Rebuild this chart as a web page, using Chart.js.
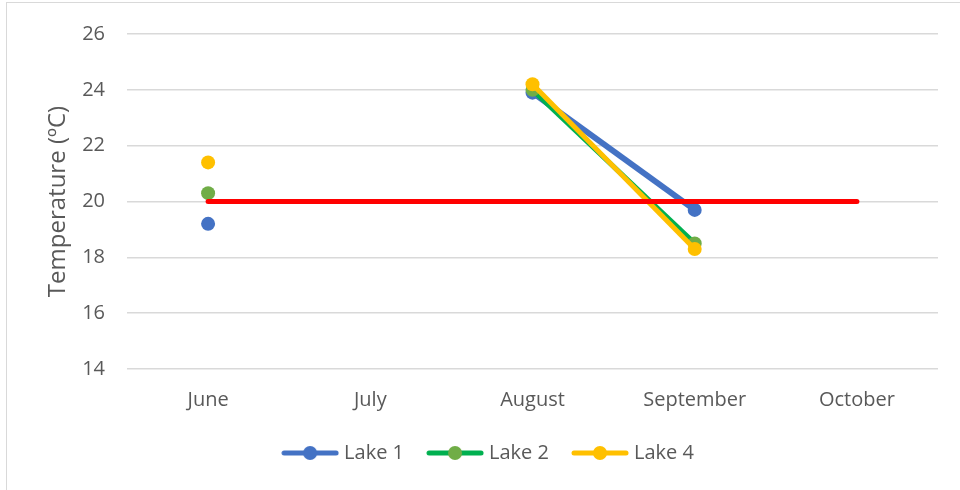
<!DOCTYPE html>
<html>
<head>
<meta charset="utf-8">
<script src="https://cdn.jsdelivr.net/npm/chart.js@4.4.1/dist/chart.umd.min.js"></script>
<style>
  body { margin: 0; background: #fff; }
  #wrap { position: relative; width: 960px; height: 490px; }
  #frame { position: absolute; left: 6px; top: 2px; right: -2px; bottom: -2px; border: 1px solid #d9d9d9; box-sizing: border-box; }
  canvas { position: absolute; left: 0; top: 0; }
</style>
</head>
<body>
<div id="wrap">
  <div id="frame"></div>
  <canvas id="grafico" width="960" height="490"></canvas>
</div>
<script>
// Datos
const meses = ['June', 'July', 'August', 'September', 'October'];
const lago1 = [19.2, null, 23.9, 19.7, null];
const lago2 = [20.3, null, 24.0, 18.5, null];
const lago4 = [21.4, null, 24.2, 18.3, null];
const limite = [20, 20, 20, 20, 20];
const ticksY = [14, 16, 18, 20, 22, 24, 26];

const gris = '#595959';
const fuente = "'Open Sans', 'Liberation Sans', sans-serif";

// icono de leyenda: linea con circulo
function iconoLeyenda(colorLinea, colorPunto) {
    const c = document.createElement('canvas');
    c.width = 58; c.height = 14;
    const g = c.getContext('2d');
    g.strokeStyle = colorLinea;
    g.lineWidth = 5;
    g.lineCap = 'round';
    g.beginPath();
    g.moveTo(3, 7); g.lineTo(55, 7);
    g.stroke();
    g.fillStyle = colorPunto;
    g.beginPath();
    g.arc(29, 7, 7, 0, Math.PI * 2);
    g.fill();
    return c;
}

const iconos = [
    iconoLeyenda('#4472C4', '#4472C4'),
    iconoLeyenda('#00B050', '#70AD47'),
    iconoLeyenda('#FFC000', '#FFC000')
];

const ctx = document.getElementById('grafico').getContext('2d');

new Chart(ctx, {
    type: 'line',
    data: {
        labels: meses,
        datasets: [
            {
                label: 'Lake 1',
                data: lago1,
                borderColor: '#4472C4',
                backgroundColor: '#4472C4',
                borderWidth: 6,
                pointRadius: 7,
                pointBorderWidth: 0,
                order: 4
            },
            {
                label: 'Lake 2',
                data: lago2,
                borderColor: '#00B050',
                backgroundColor: '#70AD47',
                borderWidth: 5,
                pointRadius: 7,
                pointBorderWidth: 0,
                order: 3
            },
            {
                label: 'Lake 4',
                data: lago4,
                borderColor: '#FFC000',
                backgroundColor: '#FFC000',
                borderWidth: 5,
                pointRadius: 7,
                pointBorderWidth: 0,
                order: 2
            },
            {
                label: 'limite',
                data: limite,
                borderColor: '#FF0000',
                backgroundColor: '#FF0000',
                borderWidth: 5,
                borderCapStyle: 'round',
                pointRadius: 0,
                order: 1
            }
        ]
    },
    options: {
        responsive: false,
        animation: false,
        layout: {
            padding: { left: 42, right: 22, top: 18, bottom: 17 }
        },
        plugins: {
            tooltip: { enabled: false },
            legend: {
                position: 'bottom',
                labels: {
                    usePointStyle: true,
                    pointStyleWidth: 48,
                    boxHeight: 14,
                    padding: 27,
                    color: gris,
                    font: { family: fuente, size: 20 },
                    filter: item => item.text !== 'limite',
                    sort: (a, b) => a.datasetIndex - b.datasetIndex,
                    generateLabels: function(chart) {
                        const items = Chart.defaults.plugins.legend.labels.generateLabels(chart);
                        items.forEach(it => {
                            if (it.datasetIndex < 3) it.pointStyle = iconos[it.datasetIndex];
                        });
                        return items;
                    }
                }
            }
        },
        scales: {
            x: {
                offset: true,
                afterFit: scale => { scale.height = 47; },
                grid: { display: false },
                border: { display: false },
                ticks: {
                    color: gris,
                    padding: 11,
                    font: { family: fuente, size: 20 }
                }
            },
            y: {
                min: 14,
                max: 26,
                afterFit: scale => { scale.width = 85; },
                afterBuildTicks: scale => { scale.ticks = ticksY.map(v => ({ value: v })); },
                grid: { color: '#d9d9d9', lineWidth: 1.5, drawTicks: false },
                border: { display: false },
                ticks: {
                    color: gris,
                    padding: 22,
                    font: { family: fuente, size: 20 }
                },
                title: {
                    display: true,
                    text: 'Temperature (ºC)',
                    color: gris,
                    padding: { top: 2, bottom: 0 },
                    font: { family: fuente, size: 24 }
                }
            }
        }
    }
});
</script>
</body>
</html>
